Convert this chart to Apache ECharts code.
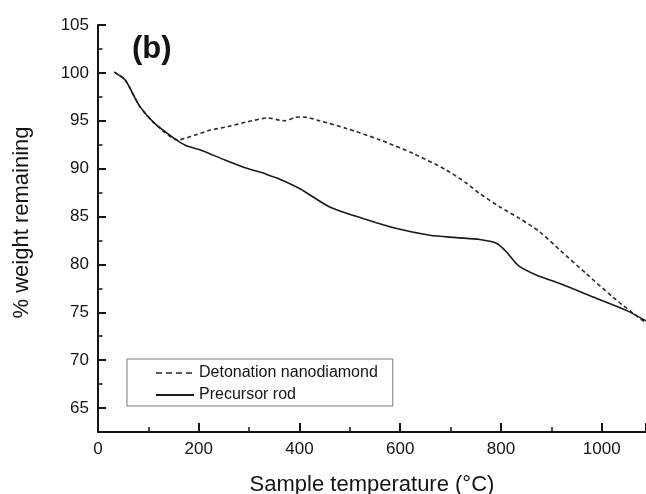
<!DOCTYPE html>
<html>
<head>
<meta charset="utf-8">
<script src="https://cdn.jsdelivr.net/npm/echarts@6/dist/echarts.min.js"></script>
<style>html,body{margin:0;padding:0;background:#fff}#c{width:646px;height:494px}</style>
</head>
<body>
<div id="c"></div>
<script>
var detX = [32, 54, 83, 113, 159, 192, 222, 258, 298, 337, 361, 371, 391, 407, 440, 493, 560, 625, 692, 731, 758, 798, 837, 877, 917, 970, 1022, 1062, 1088];
var detY = [100.1, 99.25, 96.5, 94.7, 93.0, 93.5, 94.0, 94.4, 94.9, 95.3, 95.05, 95.0, 95.35, 95.4, 95.0, 94.2, 93.0, 91.6, 89.85, 88.5, 87.4, 86.0, 84.8, 83.4, 81.5, 79.0, 76.6, 74.9, 73.9];
var rodX = [34, 54, 83, 113, 153, 173, 206, 252, 292, 331, 337, 361, 401, 460, 526, 593, 659, 711, 758, 791, 811, 834, 870, 917, 983, 1049, 1088];
var rodY = [100.0, 99.25, 96.5, 94.7, 93.1, 92.45, 91.9, 90.9, 90.1, 89.5, 89.35, 88.9, 87.9, 86.0, 84.8, 83.75, 83.05, 82.8, 82.6, 82.2, 81.3, 79.9, 78.9, 78.0, 76.6, 75.2, 74.1];
var seriesNames = ['Detonation nanodiamond', 'Precursor rod'];
var xTickLabels = ['0', '200', '400', '600', '800', '1000'];
var yTickLabels = ['65', '70', '75', '80', '85', '90', '95', '100', '105'];

function pairs(xs, ys) { return xs.map(function (x, i) { return [x, ys[i]]; }); }

var FONT = '"Liberation Sans", Arial, sans-serif';
var INK = '#141414';
var chart = echarts.init(document.getElementById('c'), null, {renderer: 'canvas'});
chart.setOption({
  animation: false,
  backgroundColor: '#ffffff',
  grid: {left: 98, right: 0, top: 25, bottom: 62, outerBoundsMode: 'none', containLabel: false},
  xAxis: [{
    type: 'value', min: 0, max: 1088, interval: 200,
    name: 'Sample temperature (°C)', nameLocation: 'middle', nameGap: 42,
    nameTextStyle: {fontSize: 22, color: INK, fontFamily: FONT},
    axisLine: {lineStyle: {color: INK, width: 2}},
    axisTick: {inside: true, length: 9, lineStyle: {color: INK, width: 2}},
    axisLabel: {margin: 9, fontSize: 17, color: INK, fontFamily: FONT,
      formatter: function (v) { var s = String(v); return xTickLabels.indexOf(s) >= 0 ? s : ''; }},
    splitLine: {show: false}
  }, {
    type: 'value', min: 0, max: 1088, interval: 100, position: 'bottom',
    axisLine: {show: false},
    axisTick: {inside: true, length: 5, lineStyle: {color: INK, width: 1.5}},
    axisLabel: {show: false}, splitLine: {show: false}
  }],
  yAxis: [{
    type: 'value', min: 62.5, max: 105, splitNumber: 8,
    name: '% weight remaining', nameLocation: 'middle', nameGap: 65,
    nameTextStyle: {fontSize: 22, color: INK, fontFamily: FONT, padding: [0, 0, 0, 12]},
    axisLine: {show: true, lineStyle: {color: INK, width: 2}},
    axisTick: {show: true, inside: true, length: 8, lineStyle: {color: INK, width: 2}},
    axisLabel: {margin: 9, fontSize: 17, color: INK, fontFamily: FONT,
      formatter: function (v) { var s = String(v); return yTickLabels.indexOf(s) >= 0 ? s : ''; }},
    splitLine: {show: false}
  }, {
    type: 'value', min: 62.5, max: 105, interval: 2.5, position: 'left',
    axisLine: {show: false},
    axisTick: {show: true, inside: true, length: 4.5, lineStyle: {color: INK, width: 1.5}},
    axisLabel: {show: false}, splitLine: {show: false}
  }],
  legend: {
    orient: 'vertical', left: 127, top: 359,
    data: [
      {name: seriesNames[0], lineStyle: {type: [6, 4], width: 1.6}},
      {name: seriesNames[1]}
    ],
    itemWidth: 38, itemHeight: 14, itemGap: 6,
    padding: [6, 15, 3, 28],
    borderColor: '#7a7a7a', borderWidth: 1, borderRadius: 0,
    itemStyle: {opacity: 0},
    textStyle: {fontSize: 16, color: INK, fontFamily: FONT}
  },
  graphic: [{
    type: 'text', left: 132, top: 34,
    style: {text: '(b)', font: 'bold 31px ' + FONT, fill: INK}
  }],
  series: [{
    name: seriesNames[0], type: 'line', data: pairs(detX, detY),
    symbol: 'none', smooth: 0.25,
    itemStyle: {color: '#2a2a2a'},
    lineStyle: {color: '#2a2a2a', width: 1.6, type: [4, 3]}
  }, {
    name: seriesNames[1], type: 'line', data: pairs(rodX, rodY),
    symbol: 'none', smooth: 0.25,
    itemStyle: {color: '#1a1a1a'},
    lineStyle: {color: '#1a1a1a', width: 1.6, type: 'solid'}
  }]
});
</script>
</body>
</html>
